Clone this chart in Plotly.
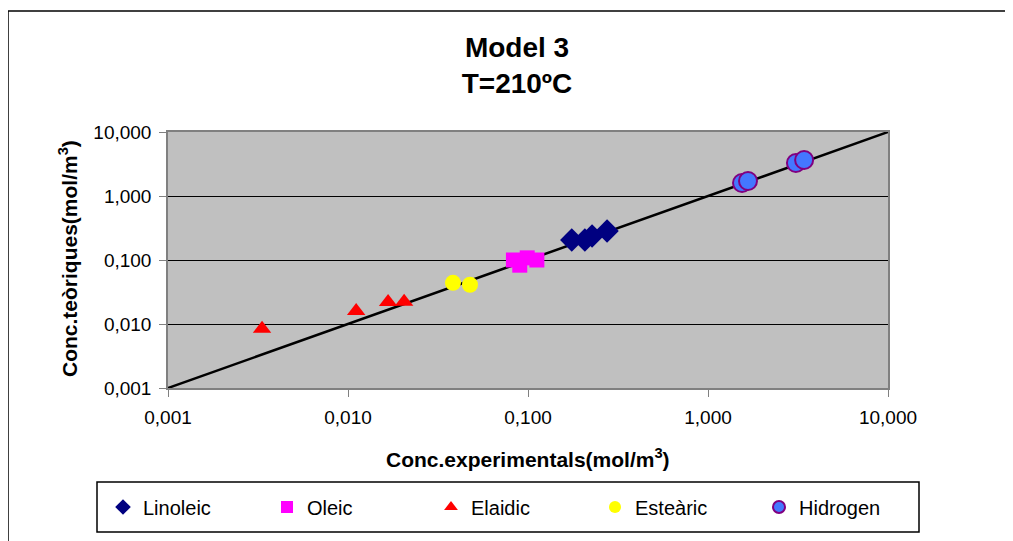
import plotly.graph_objects as go

# ---- data ----
linoleic_x = [0.175, 0.207, 0.227, 0.275]
linoleic_y = [0.205, 0.205, 0.237, 0.284]

oleic_x = [0.083, 0.090, 0.099, 0.112]
oleic_y = [0.100, 0.083, 0.108, 0.100]

elaidic_x = [0.00333, 0.0111, 0.0167, 0.0205]
elaidic_y = [0.0084, 0.0160, 0.0221, 0.0222]

estearic_x = [0.0383, 0.0476]
estearic_y = [0.0440, 0.0410]

hidrogen_x = [1.545, 1.668, 3.08, 3.42]
hidrogen_y = [1.596, 1.716, 3.28, 3.65]

line_x = [0.001, 10]
line_y = [0.001, 10]

tick_vals = [0.001, 0.01, 0.1, 1, 10]
tick_text = ["0,001", "0,010", "0,100", "1,000", "10,000"]

FONT = "Liberation Sans, Arial, sans-serif"

fig = go.Figure()

fig.add_trace(go.Scatter(x=line_x, y=line_y, mode="lines",
                         line=dict(color="black", width=2.5),
                         showlegend=False, hoverinfo="skip"))

fig.add_trace(go.Scatter(x=linoleic_x, y=linoleic_y, mode="markers", name="Linoleic",
                         marker=dict(symbol="diamond", size=18, color="#000080")))
fig.add_trace(go.Scatter(x=oleic_x, y=oleic_y, mode="markers", name="Oleic",
                         marker=dict(symbol="square", size=15, color="#FF00FF")))
fig.add_trace(go.Scatter(x=elaidic_x, y=elaidic_y, mode="markers", name="Elaidic",
                         marker=dict(symbol="triangle-up", size=16, color="#FF0000")))
fig.add_trace(go.Scatter(x=estearic_x, y=estearic_y, mode="markers", name="Esteàric",
                         marker=dict(symbol="circle", size=16, color="#FFFF00")))
fig.add_trace(go.Scatter(x=hidrogen_x, y=hidrogen_y, mode="markers", name="Hidrogen",
                         marker=dict(symbol="circle", size=18, color="#4477FF",
                                     line=dict(color="#800080", width=2))))

# page body offset of the figure (browser default margin)
OFF = 8
W, H = 1013 - OFF, 541 - OFF
L, R, T, B = 168 - OFF, 888 - OFF, 132 - OFF, 388 - OFF
pw, ph = R - L, B - T


def px(xp):
    return (xp - OFF - L) / pw


def py(yp):
    return (B - (yp - OFF)) / ph


fig.update_layout(
    width=W, height=H,
    margin=dict(l=L, r=W - R, t=T, b=H - B, pad=0),
    paper_bgcolor="white",
    plot_bgcolor="#C0C0C0",
    font=dict(family=FONT, color="black", size=19),
    title=dict(text="<b>Model 3<br>T=210ºC</b>", x=px(517), xref="paper",
               xanchor="center", y=1 - (57 - OFF) / H, yref="container", yanchor="top",
               font=dict(size=28, family=FONT, color="black")),
    showlegend=True,
    legend=dict(orientation="h", x=px(103), xanchor="left", y=py(507), yanchor="middle",
                bgcolor="rgba(0,0,0,0)", borderwidth=0,
                entrywidth=119, entrywidthmode="pixels",
                font=dict(size=20, family=FONT), itemsizing="constant",
                traceorder="normal"),
    xaxis=dict(type="log", range=[-3, 1], tickvals=tick_vals, ticktext=tick_text,
               showgrid=False, zeroline=False, showline=True, linecolor="#808080",
               linewidth=1.5, mirror=True, ticks="outside", ticklen=7, tickcolor="#808080",
               ticklabelstandoff=4,
               tickfont=dict(size=19, family=FONT)),
    yaxis=dict(type="log", range=[-3, 1], tickvals=tick_vals, ticktext=tick_text,
               showgrid=True, gridcolor="black", gridwidth=1, zeroline=False,
               showline=True, linecolor="#808080", linewidth=1.5, mirror=True,
               ticks="outside", ticklen=7, tickcolor="#808080",
               ticklabelstandoff=4,
               tickfont=dict(size=19, family=FONT)),
)

# axis titles
fig.add_annotation(text="<b>Conc.experimentals(mol/m<sup>3</sup>)</b>", xref="paper", yref="paper",
                   x=px(528), y=py(458), xanchor="center", yanchor="middle", showarrow=False,
                   font=dict(size=21, family=FONT, color="black"))
fig.add_annotation(text="<b>Conc.teòriques(mol/m<sup>3</sup>)</b>", xref="paper", yref="paper",
                   x=px(68), y=py(259), xanchor="center", yanchor="middle", showarrow=False,
                   textangle=-90, font=dict(size=21, family=FONT, color="black"))

# legend frame
fig.add_shape(type="rect", xref="paper", yref="paper", x0=px(97), x1=px(919),
              y0=py(532), y1=py(482), line=dict(color="black", width=1.5),
              fillcolor="rgba(0,0,0,0)", layer="above")

# outer chart-area border (top and left edges visible)
fig.add_shape(type="line", xref="paper", yref="paper", x0=px(8), x1=px(1013),
              y0=py(11), y1=py(11), line=dict(color="black", width=1.5))
fig.add_shape(type="line", xref="paper", yref="paper", x0=px(8), x1=px(8),
              y0=py(11), y1=py(545), line=dict(color="black", width=1.5))

fig.write_html("out.html")
